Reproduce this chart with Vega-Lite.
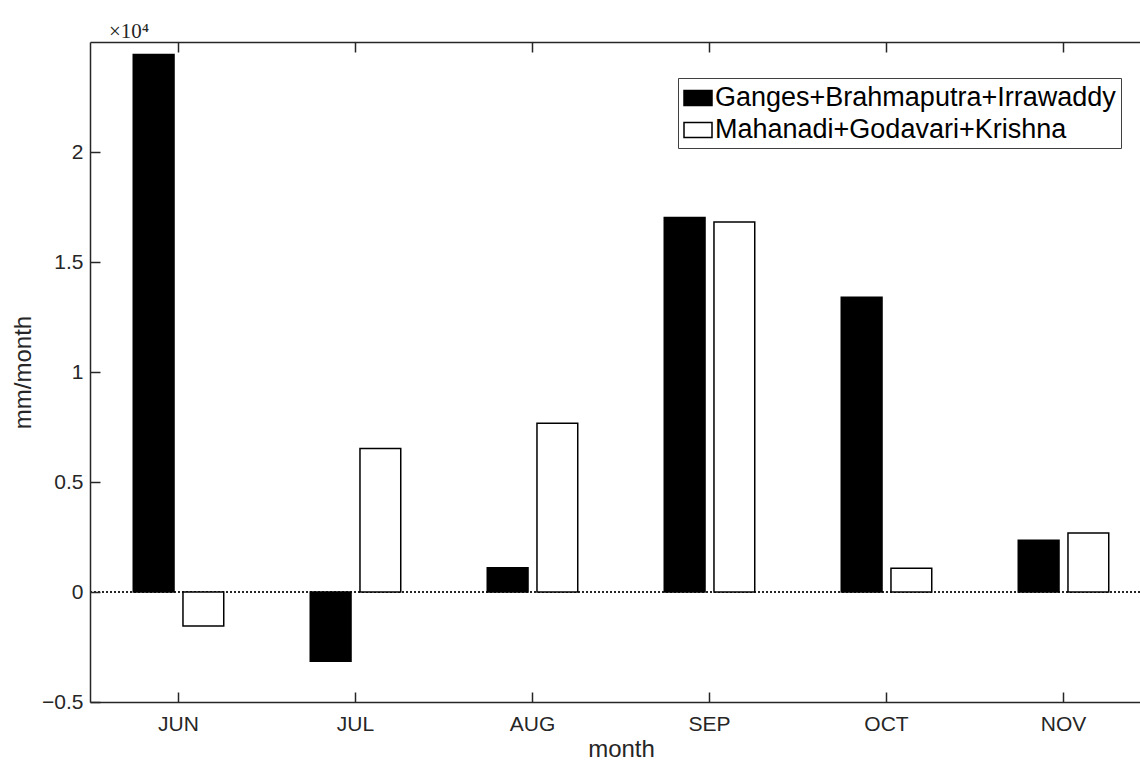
{
  "$schema": "https://vega.github.io/schema/vega-lite/v6.json",
  "width": 1050,
  "height": 660,
  "autosize": {"type": "none"},
  "padding": {"left": 90, "top": 42, "right": 0, "bottom": 60},
  "background": "white",
  "title": {
    "text": "×10⁴",
    "anchor": "start",
    "frame": "group",
    "dx": 19,
    "offset": -18,
    "baseline": "alphabetic",
    "font": "Liberation Serif",
    "fontSize": 21,
    "fontWeight": "normal",
    "color": "#262626"
  },
  "config": {
    "view": {"stroke": null},
    "axis": {
      "labelFont": "Liberation Sans",
      "titleFont": "Liberation Sans",
      "labelFontSize": 21,
      "titleFontSize": 24,
      "titleFontWeight": "normal",
      "labelColor": "#262626",
      "titleColor": "#262626",
      "domainColor": "#262626",
      "tickColor": "#262626",
      "domainWidth": 1.5,
      "tickWidth": 1.5,
      "grid": false
    }
  },
  "data": {
    "values": [
      {"month": "JUN", "basin": "Ganges+Brahmaputra+Irrawaddy", "value": 24430},
      {"month": "JUN", "basin": "Mahanadi+Godavari+Krishna", "value": -1545},
      {"month": "JUL", "basin": "Ganges+Brahmaputra+Irrawaddy", "value": -3150},
      {"month": "JUL", "basin": "Mahanadi+Godavari+Krishna", "value": 6520},
      {"month": "AUG", "basin": "Ganges+Brahmaputra+Irrawaddy", "value": 1100},
      {"month": "AUG", "basin": "Mahanadi+Godavari+Krishna", "value": 7670},
      {"month": "SEP", "basin": "Ganges+Brahmaputra+Irrawaddy", "value": 17020},
      {"month": "SEP", "basin": "Mahanadi+Godavari+Krishna", "value": 16820},
      {"month": "OCT", "basin": "Ganges+Brahmaputra+Irrawaddy", "value": 13400},
      {"month": "OCT", "basin": "Mahanadi+Godavari+Krishna", "value": 1080},
      {"month": "NOV", "basin": "Ganges+Brahmaputra+Irrawaddy", "value": 2350},
      {"month": "NOV", "basin": "Mahanadi+Godavari+Krishna", "value": 2680}
    ]
  },
  "resolve": {"axis": {"x": "independent"}},
  "layer": [
    {
      "mark": {"type": "rule", "strokeDash": [2, 2], "color": "#262626", "strokeWidth": 1},
      "encoding": {"y": {"datum": 0, "type": "quantitative"}}
    },
    {
      "mark": {"type": "bar", "stroke": "#000000", "strokeWidth": 1.5},
      "encoding": {
        "x": {
          "field": "month",
          "type": "nominal",
          "sort": ["JUN", "JUL", "AUG", "SEP", "OCT", "NOV"],
          "scale": {"range": [0, 1062], "paddingInner": 0, "paddingOuter": -0.017},
          "axis": {
            "orient": "bottom",
            "title": "month",
            "labelAngle": 0,
            "tickSize": -10,
            "labelPadding": 38,
            "labelBaseline": "alphabetic",
            "titleY": 54,
            "titleBaseline": "alphabetic"
          }
        },
        "xOffset": {
          "field": "basin",
          "type": "nominal",
          "sort": ["Ganges+Brahmaputra+Irrawaddy", "Mahanadi+Godavari+Krishna"],
          "scale": {"paddingInner": 0.18, "paddingOuter": 0.87}
        },
        "y": {
          "field": "value",
          "type": "quantitative",
          "scale": {"domain": [-5000, 25000], "nice": false, "zero": false},
          "axis": {
            "title": "mm/month",
            "values": [-5000, 0, 5000, 10000, 15000, 20000],
            "labelExpr": "format(datum.value / 10000, '~g')",
            "tickSize": -10,
            "labelPadding": 17,
            "titleX": -60,
            "titleY": 330,
            "titleBaseline": "alphabetic"
          }
        },
        "fill": {
          "field": "basin",
          "type": "nominal",
          "sort": ["Ganges+Brahmaputra+Irrawaddy", "Mahanadi+Godavari+Krishna"],
          "scale": {"range": ["#000000", "#ffffff"]},
          "legend": {
            "title": null,
            "orient": "none",
            "legendX": 588,
            "legendY": 36,
            "padding": 5,
            "rowPadding": 4,
            "strokeColor": "#404040",
            "fillColor": "#ffffff",
            "symbolType": "M-1,-0.535H1V0.535H-1Z",
            "symbolSize": 784,
            "symbolStrokeColor": "#000000",
            "symbolStrokeWidth": 1.5,
            "labelFont": "Liberation Sans",
            "labelFontSize": 27,
            "labelColor": "#000000",
            "labelOffset": 2,
            "labelLimit": 0
          }
        }
      }
    },
    {
      "mark": {"type": "point", "opacity": 0},
      "encoding": {
        "x": {
          "field": "month",
          "type": "nominal",
          "sort": ["JUN", "JUL", "AUG", "SEP", "OCT", "NOV"],
          "axis": {"orient": "top", "title": null, "labels": false, "tickSize": -10}
        },
        "y": {"datum": 0, "type": "quantitative"}
      }
    }
  ]
}
